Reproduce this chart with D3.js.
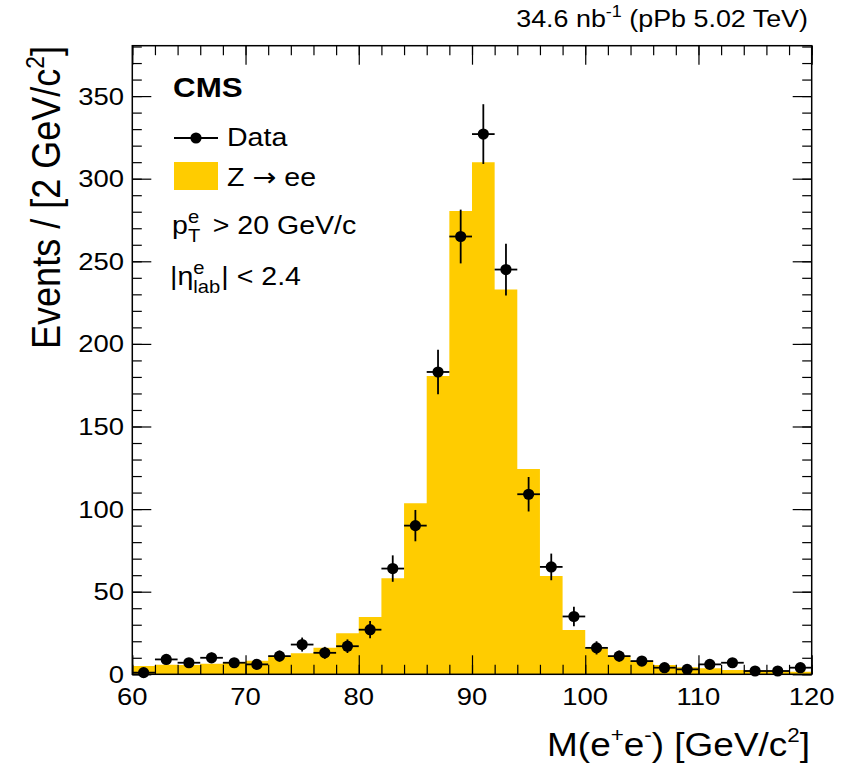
<!DOCTYPE html>
<meta charset="utf-8">
<head>
    <script src="https://d3js.org/d3.v7.min.js"></script>
</head>
<style>
    body { margin: 0; background: #fff; }
    svg text { font-family: "Liberation Sans", Arial, Helvetica, sans-serif; fill: #000; }
</style>
<body>
<script>
    'use strict';

    // bin centres (2 GeV bins from 60 to 120)
    const binCenters = [61, 63, 65, 67, 69, 71, 73, 75, 77, 79, 81, 83, 85, 87, 89,
        91, 93, 95, 97, 99, 101, 103, 105, 107, 109, 111, 113, 115, 117, 119];
    // observed events
    const dataCounts = [1, 9, 7, 10, 7, 6, 11, 18, 13, 17, 27, 64, 90, 183, 265,
        327, 245, 109, 65, 35, 16, 11, 8, 4, 3, 6, 7, 2, 2, 4];
    // Z -> ee expectation
    const mcCounts = [5.0, 5.8, 5.6, 6.4, 7.3, 8.2, 10.7, 12.7, 16.1, 24.8, 34.7, 58.1, 103.5, 180.5, 280.4,
        310, 233, 124.3, 59.5, 26.8, 15.7, 10.7, 8, 5.6, 4.2, 3.6, 2.6, 2.2, 2.0, 1.6];
    const xTicks = [60, 70, 80, 90, 100, 110, 120];
    const yTicks = [0, 50, 100, 150, 200, 250, 300, 350];

    const W = 852, H = 766;
    const frame = { left: 132.3, right: 811.7, top: 45.7, bottom: 674.3 };
    const binW = 2;
    const stretch = 1.12;   // glyphs in the reference are a bit wide
    const yellow = "#ffcc00";

    const x = d3.scaleLinear().domain([60, 120]).range([frame.left, frame.right]);
    const y = d3.scaleLinear().domain([0, 380.5]).range([frame.bottom, frame.top]);

    const svg = d3.select("body").append("svg")
        .attr("width", W).attr("height", H);

    // text with super/subscript pieces; parts = [[string, size, dy, dx, family]]
    function label(px, py, anchor, parts, opts) {
        opts = opts || {};
        const g = svg.append("g")
            .attr("transform", "translate(" + px + "," + py + ")" + (opts.rotate ? " rotate(-90) scale(1," + stretch + ")" : " scale(" + stretch + ",1)"));
        const t = g.append("text").attr("text-anchor", anchor);
        if (opts.bold) t.attr("font-weight", "bold");
        parts.forEach((p) => {
            const s = t.append("tspan")
                .attr("font-size", p[1])
                .attr("dy", p[2] || 0)
                .attr("dx", p[3] || 0)
                .text(p[0]);
            if (p[4]) s.style("font-family", p[4]);
        });
        return t;
    }

    // histogram (step area)
    const stepPts = binCenters.map((c, i) => [c - binW / 2, mcCounts[i]]);
    stepPts.push([120, mcCounts[mcCounts.length - 1]]);
    svg.append("path")
        .datum(stepPts)
        .attr("fill", yellow)
        .attr("d", d3.area()
            .curve(d3.curveStepAfter)
            .x((d) => x(d[0]))
            .y0(y(0))
            .y1((d) => y(d[1])));

    // axes, ticks pointing inward
    function tickAxis(axis, tr, values, size) {
        const g = svg.append("g")
            .attr("transform", tr)
            .call(axis.tickValues(values).tickSize(size).tickFormat(""));
        g.select(".domain").remove();
        g.selectAll("line").attr("stroke", "#000").attr("stroke-width", 1.2);
        return g;
    }
    const minorX = d3.range(60, 121, 2), minorY = d3.range(0, 381, 10);
    tickAxis(d3.axisBottom(x), "translate(0," + frame.bottom + ")", minorX, -9.5);
    tickAxis(d3.axisBottom(x), "translate(0," + frame.bottom + ")", xTicks, -19);
    tickAxis(d3.axisTop(x), "translate(0," + frame.top + ")", minorX, -9.5);
    tickAxis(d3.axisTop(x), "translate(0," + frame.top + ")", xTicks, -19);
    tickAxis(d3.axisLeft(y), "translate(" + frame.left + ",0)", minorY, -9.5);
    tickAxis(d3.axisLeft(y), "translate(" + frame.left + ",0)", yTicks, -19);
    tickAxis(d3.axisRight(y), "translate(" + frame.right + ",0)", minorY, -9.5);
    tickAxis(d3.axisRight(y), "translate(" + frame.right + ",0)", yTicks, -19);

    svg.append("rect")
        .attr("x", frame.left).attr("y", frame.top)
        .attr("width", frame.right - frame.left)
        .attr("height", frame.bottom - frame.top)
        .attr("fill", "none").attr("stroke", "#000").attr("stroke-width", 1.5);

    // tick labels
    xTicks.forEach((v) => label(x(v), 705, "middle", [[String(v), 24.5]]));
    yTicks.forEach((v) => label(124, y(v) + 8.5, "end", [[String(v), 24.5]]));

    // data points with poisson errors
    const pts = svg.append("g").selectAll("g")
        .data(binCenters.map((c, i) => ({ c: c, n: dataCounts[i] })))
        .join("g");
    pts.append("line")
        .attr("x1", (d) => x(d.c - 1)).attr("x2", (d) => x(d.c + 1))
        .attr("y1", (d) => y(d.n)).attr("y2", (d) => y(d.n))
        .attr("stroke", "#000").attr("stroke-width", 1.8);
    pts.append("line")
        .attr("x1", (d) => x(d.c)).attr("x2", (d) => x(d.c))
        .attr("y1", (d) => y(d.n + Math.sqrt(d.n))).attr("y2", (d) => y(Math.max(0, d.n - Math.sqrt(d.n))))
        .attr("stroke", "#000").attr("stroke-width", 1.8);
    pts.append("circle")
        .attr("cx", (d) => x(d.c)).attr("cy", (d) => y(d.n))
        .attr("r", 5.6).attr("fill", "#000");

    // legend
    svg.append("line").attr("x1", 174).attr("x2", 218).attr("y1", 138).attr("y2", 138)
        .attr("stroke", "#000").attr("stroke-width", 1.8);
    svg.append("circle").attr("cx", 196).attr("cy", 138).attr("r", 5.6).attr("fill", "#000");
    svg.append("rect").attr("x", 174).attr("y", 162).attr("width", 44).attr("height", 28).attr("fill", yellow);

    label(173, 97, "start", [["CMS", 28]], { bold: true });
    label(227, 146, "start", [["Data", 25.5]]);
    label(227, 186, "start", [["Z ", 25.5], ["\u2192", 25.5, 0, 0, "DejaVu Sans"], [" ee", 25.5]]);
    label(172, 234, "start", [["p", 25.5], ["e", 18, -11, 0], ["T", 18, 19, -10], [" > 20 GeV/c", 25.5, -8, 4]]);
    label(170, 285, "start", [["|\u03b7", 25.5], ["e", 18, -11, 0], ["lab", 18, 19, -10], ["| < 2.4", 25.5, -8, 1]]);

    // titles
    label(808, 27, "end", [["34.6 nb", 24], ["-1", 16, -10, 0], [" (pPb 5.02 TeV)", 24, 10, 0]]);
    label(810, 756, "end", [["M(e", 33], ["+", 20, -14, 0], ["e", 33, 14, 0], ["-", 20, -14, 0], [") [GeV/c", 33, 14, 0], ["2", 20, -14, 0], ["]", 33, 14, 0]]);
    label(60, 46, "end", [["Events / [2 GeV/c", 36], ["2", 23, -14, 0], ["]", 36, 14, 0]], { rotate: true });
</script>
</body>
